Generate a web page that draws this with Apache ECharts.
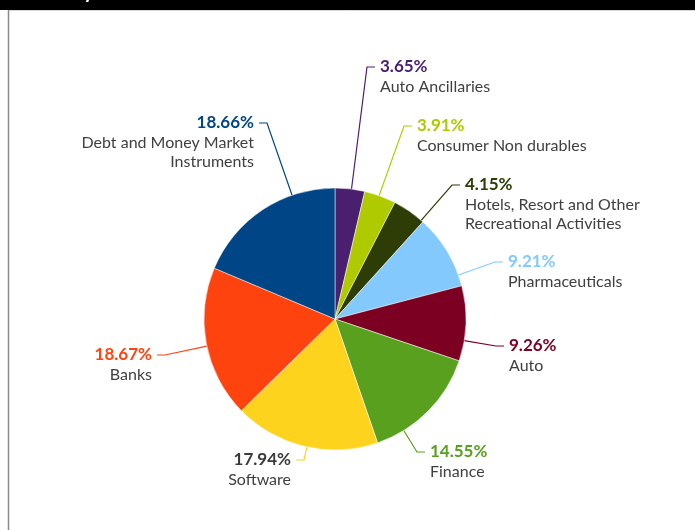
<!DOCTYPE html>
<html>
<head>
<meta charset="utf-8">
<script src="https://cdn.jsdelivr.net/npm/echarts@6/dist/echarts.min.js"></script>
<style>
    html, body { margin: 0; padding: 0; background: #fff; }
    #chart1 { width: 695px; height: 530px; }
</style>
</head>
<body>
<div id="chart1"></div>
<script>
    // данные: отрасли по часовой стрелке от верхней точки
    var sectors = [
        'Auto Ancillaries',
        'Consumer Non durables',
        'Hotels, Resort and Other\nRecreational Activities',
        'Pharmaceuticals',
        'Auto',
        'Finance',
        'Software',
        'Banks',
        'Debt and Money Market\nInstruments'
    ];
    var shares = [3.65, 3.91, 4.15, 9.21, 9.26, 14.55, 17.94, 18.67, 18.66];

    // цвета секторов и подписей процентов
    var sliceColors = ['#4b1f6f', '#afcb00', '#2e3d05', '#83c9fe', '#7b0021',
                       '#58a01e', '#fdd31e', '#ff430f', '#004586'];
    var percentColors = ['#4b1f6f', '#afcb00', '#2e3d05', '#83c9fe', '#7b0021',
                         '#58a01e', '#3a3a3a', '#ff430f', '#004586'];

    // где стоят подписи: край текста, центр строки с процентом, сторона
    var pieCenter = [335, 319];
    var pieRadius = 131;
    var labelAnchor = [
        [380, 67, 1], [417, 126, 1], [465, 185, 1], [508, 262, 1], [509, 346, 1],
        [430, 452, 1], [291, 460, -1], [152, 355, -1], [254, 123, -1]
    ];

    var rich = {
        n: { fontFamily: 'Lato', fontSize: 16, color: '#404040', lineHeight: 19 }
    };
    for (var k = 0; k < percentColors.length; k++) {
        rich['p' + k] = { fontFamily: 'Lato', fontSize: 17, fontWeight: 'bold',
                          color: percentColors[k], lineHeight: 21 };
    }

    var pieData = [];
    for (var i = 0; i < sectors.length; i++) {
        pieData.push({ name: sectors[i], value: shares[i], itemStyle: { color: sliceColors[i] } });
    }

    var chartDom = document.getElementById('chart1');
    var myChart = echarts.init(chartDom, null, { renderer: 'canvas' });
    var option = {
        animation: false,
        graphic: [
            { type: 'rect', shape: { x: 0, y: 0, width: 695, height: 10 }, style: { fill: '#000' } },
            { type: 'text', x: 20, y: 2,
              style: { text: 'Industry Allocation', fill: '#fff', font: 'bold 20px Lato', verticalAlign: 'bottom' } },
            { type: 'line', shape: { x1: 8, y1: 10.5, x2: 695, y2: 10.5 }, style: { stroke: '#d8d8d8', lineWidth: 1 } },
            { type: 'line', shape: { x1: 8.5, y1: 10, x2: 8.5, y2: 530 }, style: { stroke: '#8a8a8a', lineWidth: 1.5 } }
        ],
        series: [{
            type: 'pie',
            center: pieCenter,
            radius: pieRadius,
            startAngle: 90,
            clockwise: true,
            avoidLabelOverlap: false,
            itemStyle: { borderColor: '#fff', borderWidth: 0.5 },
            label: {
                show: true,
                position: 'outside',
                formatter: function (p) {
                    var lines = p.name.split('\n').map(function (s) { return '{n|' + s + '}'; });
                    return '{p' + p.dataIndex + '|' + p.value.toFixed(2) + '%}\n' + lines.join('\n');
                },
                rich: rich
            },
            labelLine: { show: true, lineStyle: { width: 1.2 } },
            labelLayout: function (params) {
                var a = labelAnchor[params.dataIndex];
                var side = a[2];
                var ax = a[0] - side * 5, ay = a[1];
                var bx = ax - side * 8;
                var dx = bx - pieCenter[0], dy = ay - pieCenter[1];
                var d = Math.sqrt(dx * dx + dy * dy);
                var sx = pieCenter[0] + dx / d * pieRadius;
                var sy = pieCenter[1] + dy / d * pieRadius;
                return {
                    x: a[0],
                    y: a[1] - 10.5,
                    align: side > 0 ? 'left' : 'right',
                    verticalAlign: 'top',
                    labelLinePoints: [[sx, sy], [bx, ay], [ax, ay]]
                };
            },
            data: pieData
        }]
    };
    option && myChart.setOption(option);
</script>
</body>
</html>
